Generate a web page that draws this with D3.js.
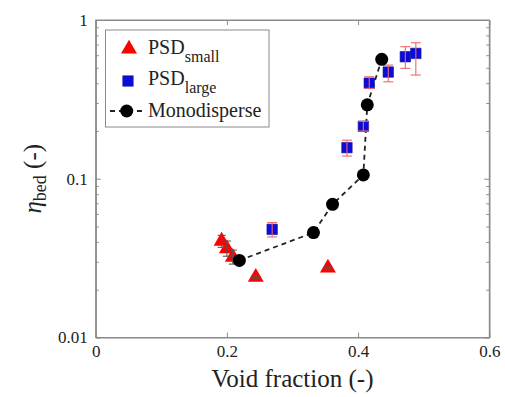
<!DOCTYPE html>
<html>
<head>
<meta charset="utf-8">
<script src="https://cdn.jsdelivr.net/npm/d3@7"></script>
<style>
  html, body { margin: 0; padding: 0; background: #fff; }
  svg { display: block; }
</style>
</head>
<body>
<div id="chart"></div>
<script>
// PSD (small particles): void fraction, bed efficiency and error-bar limits
const smallVoid = [0.192, 0.200, 0.209, 0.244, 0.354];
const smallEta  = [0.0405, 0.0363, 0.0321, 0.0240, 0.0274];
const smallLo   = [0.0370, 0.0325, 0.0290, 0.0236, 0.0270];
const smallHi   = [0.0440, 0.0405, 0.0355, 0.0244, 0.0278];

// PSD (large particles)
const largeVoid = [0.269, 0.383, 0.408, 0.417, 0.446, 0.472, 0.488];
const largeEta  = [0.048, 0.157, 0.214, 0.400, 0.470, 0.587, 0.616];
const largeLo   = [0.043, 0.139, 0.200, 0.371, 0.408, 0.496, 0.450];
const largeHi   = [0.053, 0.175, 0.230, 0.439, 0.520, 0.679, 0.719];

// Monodisperse beds
const monoVoid = [0.219, 0.332, 0.361, 0.408, 0.414, 0.436];
const monoEta  = [0.0306, 0.0458, 0.069, 0.1057, 0.292, 0.565];

// Axis ticks
const xTicks = [0, 0.2, 0.4, 0.6];
const xTickLabels = ["0", "0.2", "0.4", "0.6"];
const yTicks = [0.01, 0.1, 1];
const yTickLabels = ["0.01", "0.1", "1"];

const W = 505, H = 397;
const mLeft = 95.7, mRight = 489.3, mTop = 20, mBottom = 337.5;
const FONT = "Liberation Serif";

const svg = d3.select("#chart").append("svg").attr("width", W).attr("height", H);

const x = d3.scaleLinear().domain([0, 0.6]).range([mLeft, mRight]);
const y = d3.scaleLog().domain([0.01, 1]).range([mBottom, mTop]);

const axisColor = "#8a8a8a";

// minor log ticks
const minor = [];
for (const dec of [0.01, 0.1]) for (let k = 2; k <= 9; k++) minor.push(dec * k);

// bottom axis
const gx = svg.append("g").attr("transform", `translate(0,${mBottom})`)
  .call(d3.axisBottom(x).tickValues(xTicks).tickFormat((d, i) => xTickLabels[i])
    .tickSizeInner(-5).tickSizeOuter(0).tickPadding(7.5));
// top axis
const gxt = svg.append("g").attr("transform", `translate(0,${mTop})`)
  .call(d3.axisTop(x).tickValues(xTicks).tickFormat("").tickSizeInner(-5).tickSizeOuter(0));
// left axis
const gy = svg.append("g").attr("transform", `translate(${mLeft},0)`)
  .call(d3.axisLeft(y).tickValues(yTicks).tickFormat((d, i) => yTickLabels[i])
    .tickSizeInner(-5).tickSizeOuter(0).tickPadding(8));
const gym = svg.append("g").attr("transform", `translate(${mLeft},0)`)
  .call(d3.axisLeft(y).tickValues(minor).tickFormat("").tickSizeInner(-3).tickSizeOuter(0));
// right axis
const gyr = svg.append("g").attr("transform", `translate(${mRight},0)`)
  .call(d3.axisRight(y).tickValues(yTicks).tickFormat("").tickSizeInner(-5).tickSizeOuter(0));
const gyrm = svg.append("g").attr("transform", `translate(${mRight},0)`)
  .call(d3.axisRight(y).tickValues(minor).tickFormat("").tickSizeInner(-3).tickSizeOuter(0));

for (const g of [gx, gxt, gy, gym, gyr, gyrm]) {
  g.attr("font-family", null).attr("font-size", null);
  g.selectAll("path.domain").attr("stroke", axisColor);
  g.selectAll(".tick line").attr("stroke", axisColor);
  g.selectAll(".tick text").attr("fill", "#222")
    .attr("font-family", FONT).attr("font-size", 17);
}

// axis titles
svg.append("text").attr("x", (mLeft + mRight) / 2).attr("y", 387)
  .attr("text-anchor", "middle").attr("font-family", FONT).attr("font-size", 25)
  .attr("fill", "#222").text("Void fraction (-)");

const yl = svg.append("text").attr("transform", `translate(41,${(mTop + mBottom) / 2}) rotate(-90)`)
  .attr("text-anchor", "middle").attr("font-family", FONT).attr("font-size", 25).attr("fill", "#222");
yl.append("tspan").attr("font-style", "italic").text("η");
yl.append("tspan").attr("dy", 5).attr("font-size", 18).text("bed");
yl.append("tspan").attr("dy", -5).text(" (-)");

const plot = svg.append("g");

const triPath = d3.symbol().type(d3.symbolTriangle).size(110);
const sqPath = d3.symbol().type(d3.symbolSquare).size(110);

// monodisperse dashed line
plot.append("path")
  .datum(monoVoid.map((v, i) => [v, monoEta[i]]))
  .attr("fill", "none").attr("stroke", "#222").attr("stroke-width", 1.8)
  .attr("stroke-dasharray", "5,4")
  .attr("d", d3.line().x(d => x(d[0])).y(d => y(d[1])));

// PSD small triangles
plot.selectAll("path.tri").data(smallVoid).join("path")
  .attr("class", "tri")
  .attr("transform", (d, i) => `translate(${x(d)},${y(smallEta[i])})`)
  .attr("d", triPath).attr("fill", "#ff0000");

function errorBars(xs, lo, hi, color, cap) {
  const g = plot.append("g").attr("stroke", color).attr("stroke-width", 1.1);
  xs.forEach((v, i) => {
    const cx = x(v);
    g.append("line").attr("x1", cx).attr("x2", cx).attr("y1", y(lo[i])).attr("y2", y(hi[i]));
    g.append("line").attr("x1", cx - cap).attr("x2", cx + cap).attr("y1", y(lo[i])).attr("y2", y(lo[i]));
    g.append("line").attr("x1", cx - cap).attr("x2", cx + cap).attr("y1", y(hi[i])).attr("y2", y(hi[i]));
  });
}
errorBars(smallVoid, smallLo, smallHi, "#555", 4);

// PSD large squares
plot.selectAll("path.sq").data(largeVoid).join("path")
  .attr("class", "sq")
  .attr("transform", (d, i) => `translate(${x(d)},${y(largeEta[i])})`)
  .attr("d", sqPath).attr("fill", "#0c0cd8").attr("stroke", "#1a1a9a").attr("stroke-width", 0.6);
errorBars(largeVoid, largeLo, largeHi, "#f06868", 5);

// monodisperse circles
plot.selectAll("circle.mono").data(monoVoid).join("circle")
  .attr("class", "mono")
  .attr("cx", d => x(d)).attr("cy", (d, i) => y(monoEta[i])).attr("r", 6.5)
  .attr("fill", "#000");

// frame
svg.append("rect").attr("x", mLeft).attr("y", mTop).attr("width", mRight - mLeft).attr("height", mBottom - mTop)
  .attr("fill", "none").attr("stroke", axisColor).attr("stroke-width", 1);

// legend
const lg = svg.append("g").attr("fill", "#222");
lg.append("rect").attr("x", 105.5).attr("y", 30).attr("width", 163.5).attr("height", 97)
  .attr("fill", "#fff").attr("stroke", axisColor).attr("stroke-width", 1);

lg.append("path").attr("transform", "translate(129,49)").attr("d", triPath).attr("fill", "#ff0000");
const t1 = lg.append("text").attr("x", 148).attr("y", 54).attr("font-family", FONT).attr("font-size", 20);
t1.append("tspan").text("PSD");
t1.append("tspan").attr("dy", 8).attr("font-size", 16).text("small");

lg.append("path").attr("transform", "translate(128,81)").attr("d", sqPath)
  .attr("fill", "#0c0cd8").attr("stroke", "#1a1a9a").attr("stroke-width", 0.6);
const t2 = lg.append("text").attr("x", 148).attr("y", 85).attr("font-family", FONT).attr("font-size", 20);
t2.append("tspan").text("PSD");
t2.append("tspan").attr("dy", 8).attr("font-size", 16).text("large");

lg.append("line").attr("x1", 110).attr("x2", 143).attr("y1", 111).attr("y2", 111)
  .attr("stroke", "#222").attr("stroke-width", 1.8).attr("stroke-dasharray", "5,4");
lg.append("circle").attr("cx", 126.7).attr("cy", 111).attr("r", 6.5).attr("fill", "#000");
lg.append("text").attr("x", 148).attr("y", 117).attr("font-family", FONT).attr("font-size", 20)
  .text("Monodisperse");
</script>
</body>
</html>
